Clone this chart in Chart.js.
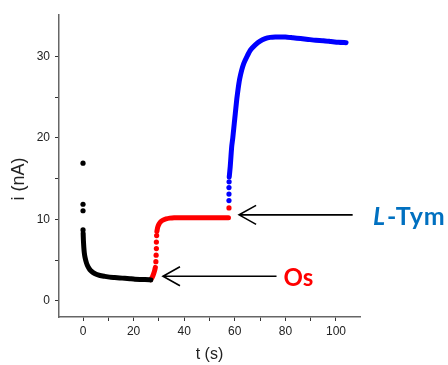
<!DOCTYPE html>
<html>
<head>
<meta charset="utf-8">
<script src="https://cdn.jsdelivr.net/npm/chart.js@4/dist/chart.umd.min.js"></script>
<style>
  body { margin: 0; background: #fff; }
</style>
</head>
<body>
<canvas id="myChart" width="448" height="365"></canvas>
<script>
// t (s) and i (nA)
// black: before anything is added
const blackDotT = [0, 0, 0, 0];
const blackDotI = [16.9, 11.85, 11.05, 8.7];
const blackT = [0.05, 0.15, 0.3, 0.5, 0.8, 1.2, 1.7, 2.3, 3.0, 4.0, 5.2, 6.7, 8.5, 10.5, 12.5, 14.5, 16.5, 18.5, 20.5, 22.5, 24.5, 26.8];
const blackI = [8.3, 7.4, 6.6, 5.9, 5.3, 4.8, 4.35, 4.0, 3.7, 3.45, 3.25, 3.1, 3.0, 2.9, 2.85, 2.8, 2.75, 2.7, 2.65, 2.62, 2.6, 2.55];

// red: after Os
const redDotT = [28.8, 28.9, 29.0, 29.0, 29.1, 57.7];
const redDotI = [4.8, 5.6, 6.4, 7.2, 8.0, 11.4];
const redT = [26.8, 27.4, 27.9, 28.3, 28.6, 28.7, 29.2, 29.5, 30.0, 30.7, 31.6, 32.8, 34.3, 36, 39, 42, 45, 48, 51, 54, 57.5];
const redI = [2.6, 2.9, 3.3, 3.7, 4.1, null, 8.5, 9.0, 9.4, 9.7, 9.9, 10.05, 10.15, 10.2, 10.2, 10.2, 10.2, 10.2, 10.2, 10.2, 10.2];

// blue: after L-Tym
const blueDotT = [57.7, 57.7, 57.7, 57.75];
const blueDotI = [12.3, 13.1, 13.9, 14.6];
const blueT = [57.8, 58.2, 58.5, 58.8, 59.2, 59.6, 60.0, 60.4, 60.8, 61.3, 61.9, 62.7, 63.6, 64.8, 66.2, 68, 70, 72, 74, 76, 78, 80, 83, 86, 89, 92, 95, 98, 101, 104];
const blueI = [15.2, 16.5, 17.8, 19.0, 20.0, 21.2, 22.4, 23.6, 24.8, 26.0, 27.2, 28.3, 29.2, 30.0, 30.8, 31.4, 31.9, 32.2, 32.35, 32.4, 32.4, 32.4, 32.3, 32.2, 32.1, 32.0, 31.95, 31.85, 31.75, 31.7];

// arrows: tip and tail in data units, and the label next to each
const notes = [
  { tipT: 31.6, tailT: 76.5, at: 3.0, textT: 79.3, textI: 2.7, parts: [['Os', false]], color: '#ff0000', size: 24, gap: '0px' },
  { tipT: 61.7, tailT: 106.6, at: 10.55, textT: 114.6, textI: 10.35, parts: [['L', true], ['-Tym', false]], color: '#0070c0', size: 25, gap: '1px' }
];

function pts(ts, is) {
  return ts.map((t, k) => ({ x: t, y: is[k] }));
}

function trace(ts, is, col) {
  return {
    data: pts(ts, is), showLine: true, borderColor: col, borderWidth: 5,
    borderCapStyle: 'round', borderJoinStyle: 'round', tension: 0.2,
    pointRadius: 0, spanGaps: false
  };
}
function dots(ts, is, col) {
  return {
    data: pts(ts, is), showLine: false, pointRadius: 2.6,
    pointBackgroundColor: col, pointBorderWidth: 0
  };
}

const arrowPlugin = {
  id: 'arrows',
  afterDatasetsDraw(chart) {
    const c = chart.ctx, xs = chart.scales.x, ys = chart.scales.y;
    c.save();
    notes.forEach(n => {
      const x0 = xs.getPixelForValue(n.tipT), x1 = xs.getPixelForValue(n.tailT);
      const y = ys.getPixelForValue(n.at);
      c.strokeStyle = '#000';
      c.lineWidth = 1.6;
      c.beginPath();
      c.moveTo(x1, y); c.lineTo(x0, y);
      c.moveTo(x0 + 17, y - 9.5); c.lineTo(x0, y); c.lineTo(x0 + 17, y + 9.5);
      c.stroke();

      let tx = xs.getPixelForValue(n.textT);
      const ty = ys.getPixelForValue(n.textI);
      c.fillStyle = n.color;
      c.textBaseline = 'middle';
      c.textAlign = 'left';
      c.letterSpacing = n.gap;
      n.parts.forEach(p => {
        c.font = (p[1] ? 'italic ' : '') + 'bold ' + n.size + 'px Lato';
        c.fillText(p[0], tx, ty);
        tx += c.measureText(p[0]).width + (p[1] ? 1 : 0);
      });
      c.letterSpacing = '0px';
    });

    // y axis title, sits a bit below the middle of the axis
    c.translate(19, 179);
    c.rotate(-Math.PI / 2);
    c.fillStyle = '#222';
    c.font = '18px "Liberation Sans"';
    c.textAlign = 'center';
    c.textBaseline = 'middle';
    c.fillText('i (nA)', 0, 0);
    c.restore();
  }
};

const ctx = document.getElementById('myChart').getContext('2d');
const myChart = new Chart(ctx, {
  type: 'scatter',
  data: {
    datasets: [
      trace(blackT, blackI, '#000000'),
      dots(blackDotT, blackDotI, '#000000'),
      trace(redT, redI, '#ff0000'),
      dots(redDotT, redDotI, '#ff0000'),
      trace(blueT, blueI, '#0000ff'),
      dots(blueDotT, blueDotI, '#0000ff')
    ]
  },
  options: {
    responsive: false,
    animation: false,
    layout: { padding: { top: 15, right: 88, left: 0, bottom: 0 } },
    plugins: { legend: { display: false }, tooltip: { enabled: false } },
    scales: {
      x: {
        type: 'linear', min: -9.5, max: 109.5,
        afterFit(s) { s.height = 48; },
        border: { display: true, color: '#666', width: 1.5 },
        grid: { drawOnChartArea: false, drawTicks: true, tickLength: 4, tickColor: '#333' },
        ticks: {
          stepSize: 10, includeBounds: false, padding: 3, maxRotation: 0, autoSkip: false,
          color: '#222', font: { family: 'Liberation Sans', size: 12 },
          callback: v => (v % 20 === 0 ? v : '')
        },
        title: {
          display: true, text: 't (s)', color: '#222',
          font: { family: 'Liberation Sans', size: 16 },
          padding: { top: 0, bottom: 1 }
        }
      },
      y: {
        type: 'linear', min: -2, max: 35.1,
        afterFit(s) { s.width = 59; },
        border: { display: true, color: '#666', width: 1.5 },
        grid: {
          drawOnChartArea: false, drawTicks: true, tickLength: 4,
          tickColor: c => (c.tick && c.tick.value === 35 ? 'rgba(0,0,0,0)' : '#333')
        },
        ticks: {
          stepSize: 5, includeBounds: false, padding: 5, autoSkip: false,
          color: '#222', font: { family: 'Liberation Sans', size: 12 },
          callback: v => (v % 10 === 0 ? v : '')
        }
      }
    }
  },
  plugins: [arrowPlugin]
});
</script>
</body>
</html>
